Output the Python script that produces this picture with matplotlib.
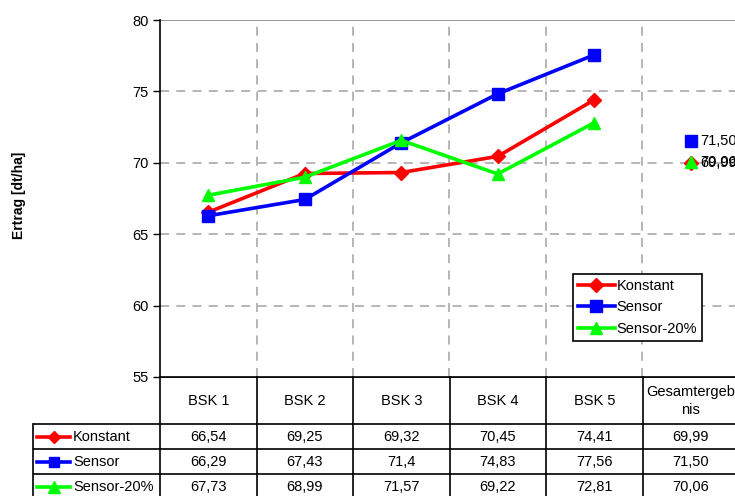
import matplotlib
matplotlib.use("Agg")
import matplotlib.pyplot as plt

plt.rcParams['font.family'] = ['Liberation Sans', 'DejaVu Sans']
plt.rcParams['font.size'] = 10.5

categories = ["BSK 1", "BSK 2", "BSK 3", "BSK 4", "BSK 5", "Gesamtergeb\nnis"]
konstant = [66.54, 69.25, 69.32, 70.45, 74.41, 69.99]
sensor = [66.29, 67.43, 71.4, 74.83, 77.56, 71.50]
sensor20 = [67.73, 68.99, 71.57, 69.22, 72.81, 70.06]
table_text = {
    "Konstant": ["66,54", "69,25", "69,32", "70,45", "74,41", "69,99"],
    "Sensor": ["66,29", "67,43", "71,4", "74,83", "77,56", "71,50"],
    "Sensor-20%": ["67,73", "68,99", "71,57", "69,22", "72,81", "70,06"],
}

series = [
    ("Konstant", konstant, "#ff0000", "D", 7),
    ("Sensor", sensor, "#0000ff", "s", 8),
    ("Sensor-20%", sensor20, "#00ff00", "^", 9),
]

W, H = 735, 496
fig = plt.figure(figsize=(W / 100, H / 100), dpi=100)
cw = 96.5  # pixel width of one category
ax = fig.add_axes([160 / W, 1 - 377 / H, 6 * cw / W, 357 / H])
ax.set_xlim(-0.5, 5.5)
ax.set_ylim(55, 80)

# grid
for y in [60, 65, 70, 75]:
    ax.axhline(y, color="#b0b0b0", lw=1.3, ls=(0, (5, 4)), zorder=1)
ax.axhline(80, color="#909090", lw=1.3, zorder=1)
for x in [0.5, 1.5, 2.5, 3.5, 4.5]:
    ax.axvline(x, color="#b0b0b0", lw=1.3, ls=(0, (5, 4)), zorder=1)

xs = list(range(5))
for name, vals, col, mk, ms in series:
    ax.plot(xs, vals[:5], color=col, lw=2.6, marker=mk, ms=ms, label=name,
            zorder=3)
    ax.plot([5], [vals[5]], color=col, marker=mk, ms=ms, ls="none", zorder=3)
    ax.annotate(table_text[name][5], (5, vals[5]), xytext=(7, 0),
                textcoords="offset points", va="center", ha="left",
                annotation_clip=False)

for s in ["top", "right"]:
    ax.spines[s].set_visible(False)
ax.spines["left"].set_linewidth(1.2)
ax.spines["bottom"].set_linewidth(1.2)
ax.set_xticks([])
ax.set_yticks([55, 60, 65, 70, 75, 80])
ax.tick_params(axis="y", length=5, width=1, pad=3)

leg = ax.legend(loc="upper left", bbox_to_anchor=(573 / W, 1 - 274 / H),
                bbox_transform=fig.transFigure, frameon=True, fancybox=False,
                framealpha=1, edgecolor="black", handlelength=2.5,
                handletextpad=0.15, borderpad=0.35, labelspacing=0.5,
                borderaxespad=0)
leg.get_frame().set_linewidth(1.2)

fig.text(19 / W, 1 - 195 / H, "Ertrag [dt/ha]", rotation=90, ha="center",
         va="center", fontsize=10, fontweight="bold")

# data table below the plot, y in pixel rows
left = -0.5 - (160 - 33) / cw
tab = fig.add_axes([33 / W, 0, (160 + 6 * cw - 33) / W, (H - 377) / H])
tab.set_xlim(left, 5.5)
tab.set_ylim(H, 377)
tab.axis("off")

lc = "black"
tab.plot([-0.5, 5.5], [377, 377], color=lc, lw=1.2)
for y in [424, 449, 474]:
    tab.plot([left, 5.5], [y, y], color=lc, lw=1.2)
for x in [-0.5, 0.5, 1.5, 2.5, 3.5, 4.5]:
    tab.plot([x, x], [377, 500], color=lc, lw=1.2, clip_on=False)
tab.plot([left, left], [424, 500], color=lc, lw=1.2, clip_on=False)

for i, c in enumerate(categories):
    tab.text(i, 401, c, ha="center", va="center", linespacing=1.3)

rows_y = [437, 462, 487]
for (name, vals, col, mk, ms), ry in zip(series, rows_y):
    x0 = -0.5 - (160 - 37) / cw
    x1 = -0.5 - (160 - 70) / cw
    tab.plot([x0, x1], [ry, ry], color=col, lw=2.6, clip_on=False)
    tab.plot([(x0 + x1) / 2], [ry], color=col, marker=mk, ms=ms - 1,
             clip_on=False)
    tab.text(-0.5 - (160 - 73) / cw, ry, name, ha="left", va="center")
    for i, t in enumerate(table_text[name]):
        tab.text(i, ry, t, ha="center", va="center")

fig.savefig("out.png", dpi=100)
